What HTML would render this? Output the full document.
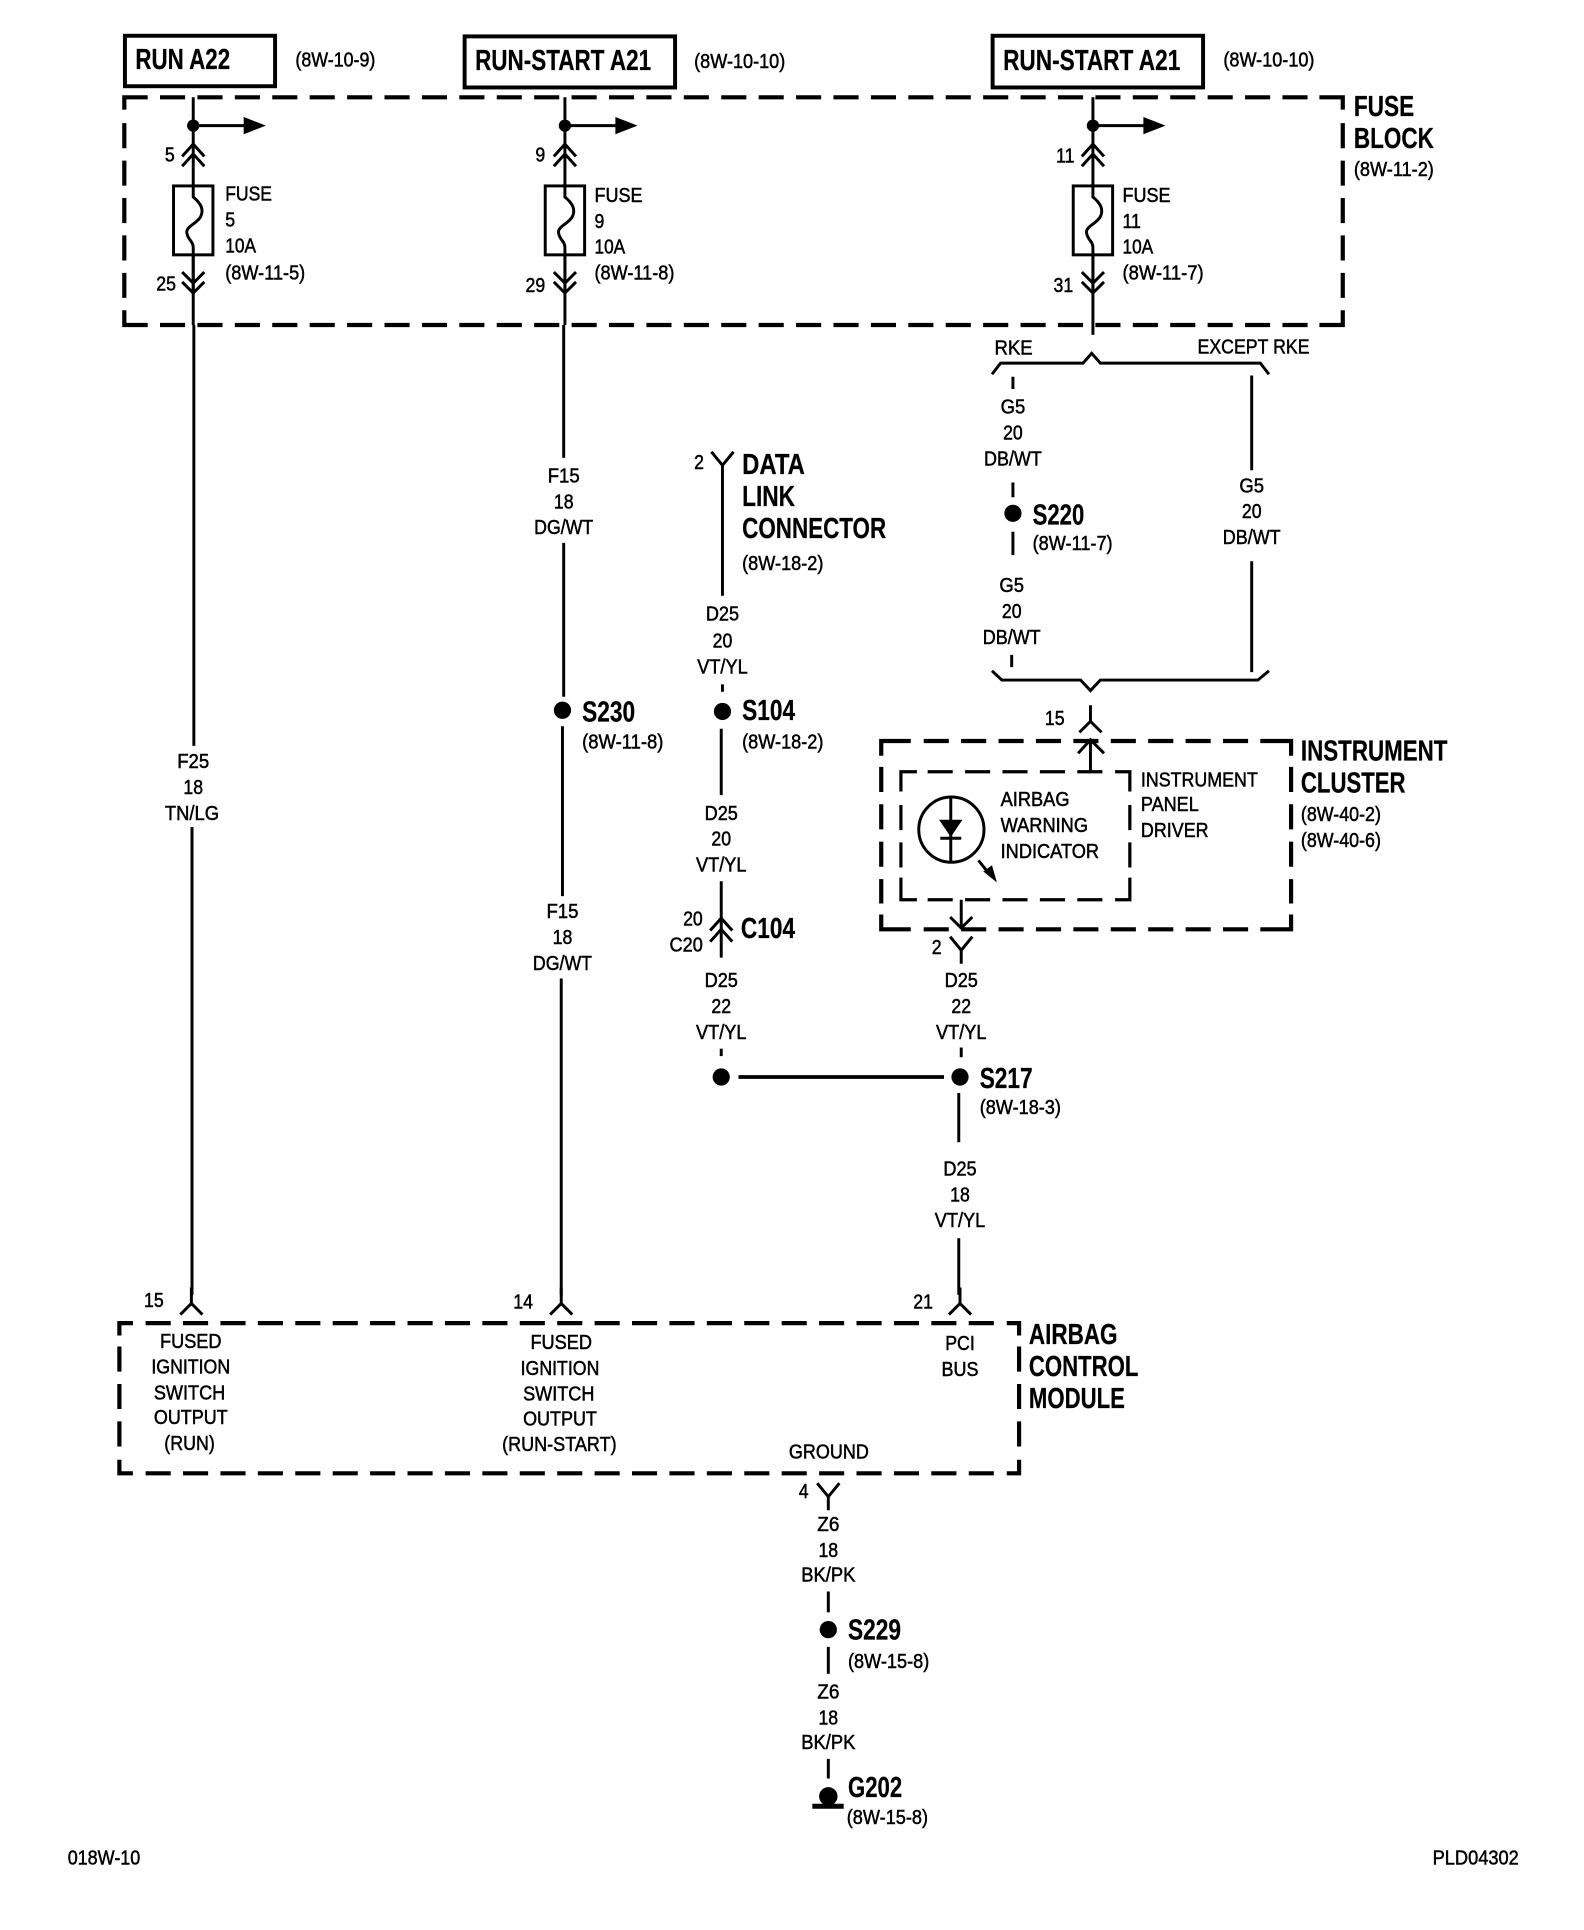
<!DOCTYPE html>
<html><head><meta charset="utf-8"><style>
html,body{margin:0;padding:0;background:#fff}
svg{display:block}
text{font-family:"Liberation Sans",sans-serif;fill:#000}
.s{font-size:16.5px;stroke:#000;stroke-width:.4px}
.b{font-size:23px;font-weight:bold;stroke:#000;stroke-width:.2px}
.m{text-anchor:middle}
.w{stroke:#000;stroke-width:2.4;fill:none}
.c{stroke:#000;stroke-width:3.4;fill:none}
.d{stroke:#000;stroke-width:3.4;fill:none;stroke-dasharray:20.4 10}
.i{stroke:#000;stroke-width:2.6;fill:none}
.j{stroke:#000;stroke-width:2.6;fill:none;stroke-dasharray:20.4 10}
</style></head><body>
<svg xmlns="http://www.w3.org/2000/svg" width="1584" height="1930" viewBox="0 0 1287 1568">
<defs>
<g id="fuse">
<path class="w" d="M0 79V264"/>
<circle cx="0" cy="102" r="5"/>
<path class="w" d="M0 102H44"/><path d="M41 95L59 102L41 109Z"/>
<path class="w" d="M-9 127L0 117L9 127M-9 135L0 125L9 135"/>
<rect x="-16" y="151" width="32" height="56" fill="#fff" stroke="#000" stroke-width="2.4"/>
<path class="w" d="M0 151V160C6 165,9 170,6 176C3 182,-7 184,-5 190C-4 195,0 196,0 201V207"/>
<path class="w" d="M0 207V238M-9 221L0 230L9 221M-9 229L0 238L9 229"/>
</g>
<path id="yd" class="w" d="M-9 -9L0 2L9 -9M0 2V13"/>
<path id="yu" class="w" d="M-9 8L0 -1L9 8M0 -1V-14"/>
</defs>
<rect width="1287" height="1568" fill="#fff"/>

<!-- top boxes -->
<g fill="none" stroke="#000" stroke-width="3.2">
<rect x="101.5" y="29" width="122" height="41"/>
<rect x="377.5" y="29.5" width="171" height="41.5"/>
<rect x="806.5" y="29" width="171" height="42"/>
</g>
<text class="b" x="110" y="56" textLength="77" lengthAdjust="spacingAndGlyphs">RUN A22</text>
<text class="b" x="386" y="57" textLength="143" lengthAdjust="spacingAndGlyphs">RUN-START A21</text>
<text class="b" x="815" y="57" textLength="144" lengthAdjust="spacingAndGlyphs">RUN-START A21</text>
<text class="s" x="240" y="54" textLength="65" lengthAdjust="spacingAndGlyphs">(8W-10-9)</text>
<text class="s" x="564" y="55" textLength="74" lengthAdjust="spacingAndGlyphs">(8W-10-10)</text>
<text class="s" x="994" y="54" textLength="74" lengthAdjust="spacingAndGlyphs">(8W-10-10)</text>

<!-- fuse block -->
<path class="c" d="M101 89V79H120M1072 79H1091V89M1091 252V264H1072M120 264H101V252"/>
<path class="d" d="M130 79H1064M130 264H1064M1091 100V243M101 100V243"/>
<use href="#fuse" x="157"/><use href="#fuse" x="459"/><use href="#fuse" x="888"/>
<text class="b" x="1100" y="94" textLength="49" lengthAdjust="spacingAndGlyphs">FUSE</text>
<text class="b" x="1100" y="120" textLength="65" lengthAdjust="spacingAndGlyphs">BLOCK</text>
<text class="s" x="1100" y="143" textLength="65" lengthAdjust="spacingAndGlyphs">(8W-11-2)</text>

<text class="s" x="134" y="131" textLength="8" lengthAdjust="spacingAndGlyphs">5</text>
<text class="s" x="127" y="236" textLength="16" lengthAdjust="spacingAndGlyphs">25</text>
<text class="s" x="435" y="131" textLength="8" lengthAdjust="spacingAndGlyphs">9</text>
<text class="s" x="427" y="237" textLength="16" lengthAdjust="spacingAndGlyphs">29</text>
<text class="s" x="858" y="132" textLength="15" lengthAdjust="spacingAndGlyphs">11</text>
<text class="s" x="856" y="237" textLength="16" lengthAdjust="spacingAndGlyphs">31</text>

<text class="s" x="183" y="163" textLength="38" lengthAdjust="spacingAndGlyphs">FUSE</text>
<text class="s" x="183" y="184" textLength="8" lengthAdjust="spacingAndGlyphs">5</text>
<text class="s" x="183" y="205" textLength="25" lengthAdjust="spacingAndGlyphs">10A</text>
<text class="s" x="183" y="227" textLength="65" lengthAdjust="spacingAndGlyphs">(8W-11-5)</text>
<text class="s" x="483" y="164" textLength="39" lengthAdjust="spacingAndGlyphs">FUSE</text>
<text class="s" x="483" y="185" textLength="8" lengthAdjust="spacingAndGlyphs">9</text>
<text class="s" x="483" y="206" textLength="25" lengthAdjust="spacingAndGlyphs">10A</text>
<text class="s" x="483" y="227" textLength="65" lengthAdjust="spacingAndGlyphs">(8W-11-8)</text>
<text class="s" x="912" y="164" textLength="39" lengthAdjust="spacingAndGlyphs">FUSE</text>
<text class="s" x="912" y="185" textLength="15" lengthAdjust="spacingAndGlyphs">11</text>
<text class="s" x="912" y="206" textLength="25" lengthAdjust="spacingAndGlyphs">10A</text>
<text class="s" x="912" y="227" textLength="66" lengthAdjust="spacingAndGlyphs">(8W-11-7)</text>

<!-- column 1 wire -->
<path class="w" d="M157.5 264V606M156 672V1052"/>
<text class="s m" x="157" y="624" textLength="26" lengthAdjust="spacingAndGlyphs">F25</text>
<text class="s m" x="157" y="645" textLength="16" lengthAdjust="spacingAndGlyphs">18</text>
<text class="s m" x="156" y="666" textLength="44" lengthAdjust="spacingAndGlyphs">TN/LG</text>

<!-- column 2 wire -->
<path class="w" d="M458 264V372M458 441V566M457 590V728M456 795V1052"/>
<text class="s m" x="458" y="392" textLength="26" lengthAdjust="spacingAndGlyphs">F15</text>
<text class="s m" x="458" y="413" textLength="16" lengthAdjust="spacingAndGlyphs">18</text>
<text class="s m" x="458" y="434" textLength="48" lengthAdjust="spacingAndGlyphs">DG/WT</text>
<circle cx="457" cy="577" r="7"/>
<text class="b" x="473" y="586" textLength="43" lengthAdjust="spacingAndGlyphs">S230</text>
<text class="s" x="473" y="608" textLength="66" lengthAdjust="spacingAndGlyphs">(8W-11-8)</text>
<text class="s m" x="457" y="746" textLength="26" lengthAdjust="spacingAndGlyphs">F15</text>
<text class="s m" x="457" y="767" textLength="16" lengthAdjust="spacingAndGlyphs">18</text>
<text class="s m" x="457" y="788" textLength="48" lengthAdjust="spacingAndGlyphs">DG/WT</text>

<!-- RKE braces -->
<path class="w" d="M888 264V272"/>
<text class="s" x="808" y="288" textLength="31" lengthAdjust="spacingAndGlyphs">RKE</text>
<text class="s" x="973" y="287" textLength="91" lengthAdjust="spacingAndGlyphs">EXCEPT RKE</text>
<path class="w" d="M806 304L813 295H880L887 287L894 295H1024L1031 304"/>
<path class="w" d="M823 306V316M823 392V404M823 432V451M822 532V542M1017 305V382M1017 456V546"/>
<text class="s m" x="823" y="336" textLength="20" lengthAdjust="spacingAndGlyphs">G5</text>
<text class="s m" x="823" y="357" textLength="16" lengthAdjust="spacingAndGlyphs">20</text>
<text class="s m" x="823" y="378" textLength="47" lengthAdjust="spacingAndGlyphs">DB/WT</text>
<circle cx="823" cy="417" r="7"/>
<text class="b" x="839" y="426" textLength="42" lengthAdjust="spacingAndGlyphs">S220</text>
<text class="s" x="839" y="447" textLength="65" lengthAdjust="spacingAndGlyphs">(8W-11-7)</text>
<text class="s m" x="822" y="481" textLength="20" lengthAdjust="spacingAndGlyphs">G5</text>
<text class="s m" x="822" y="502" textLength="16" lengthAdjust="spacingAndGlyphs">20</text>
<text class="s m" x="822" y="523" textLength="47" lengthAdjust="spacingAndGlyphs">DB/WT</text>
<text class="s m" x="1017" y="400" textLength="20" lengthAdjust="spacingAndGlyphs">G5</text>
<text class="s m" x="1017" y="421" textLength="16" lengthAdjust="spacingAndGlyphs">20</text>
<text class="s m" x="1017" y="442" textLength="47" lengthAdjust="spacingAndGlyphs">DB/WT</text>
<path class="w" d="M806 545L814 552.500H878L886 561L894 552.500H1022L1031 545"/>

<!-- instrument cluster -->
<text class="s" x="849" y="589" textLength="16" lengthAdjust="spacingAndGlyphs">15</text>
<use href="#yu" x="886" y="587"/>
<path class="c" d="M716 614V602H740M1024 602H1049V614M1049 743V755H1024M740 755H716V743"/>
<path class="d" d="M750.500 602H1015M750.500 755H1015M1049 623V734M716 623V734"/>
<path class="w" d="M876 612L886 601L897 612M886 601V627"/>
<path class="i" d="M732 643V627H745M906 627H918V643M918 713V731H906M745 731H732V713"/>
<path class="j" d="M753.700 627H896M753.700 731H896M918 654V705M732 654V705"/>
<circle cx="773" cy="674" r="26.500" fill="none" stroke="#000" stroke-width="2.4"/>
<path class="w" d="M772.500 648V701M764 681H781"/><path d="M763 666H782L772.500 680Z"/>
<path class="w" d="M795 699L803 709"/><path d="M799 708L806 703L810 717Z"/>
<text class="s" x="813" y="655" textLength="56" lengthAdjust="spacingAndGlyphs">AIRBAG</text>
<text class="s" x="813" y="676" textLength="71" lengthAdjust="spacingAndGlyphs">WARNING</text>
<text class="s" x="813" y="697" textLength="80" lengthAdjust="spacingAndGlyphs">INDICATOR</text>
<text class="s" x="927" y="639" textLength="95" lengthAdjust="spacingAndGlyphs">INSTRUMENT</text>
<text class="s" x="927" y="659" textLength="47" lengthAdjust="spacingAndGlyphs">PANEL</text>
<text class="s" x="927" y="680" textLength="55" lengthAdjust="spacingAndGlyphs">DRIVER</text>
<text class="b" x="1057" y="618" textLength="119" lengthAdjust="spacingAndGlyphs">INSTRUMENT</text>
<text class="b" x="1057" y="644" textLength="85" lengthAdjust="spacingAndGlyphs">CLUSTER</text>
<text class="s" x="1057" y="667" textLength="65" lengthAdjust="spacingAndGlyphs">(8W-40-2)</text>
<text class="s" x="1057" y="688" textLength="65" lengthAdjust="spacingAndGlyphs">(8W-40-6)</text>
<path class="w" d="M781 731V754M772 745L781 754L790 745"/>
<text class="s" x="757" y="775" textLength="8" lengthAdjust="spacingAndGlyphs">2</text>
<use href="#yd" x="781" y="770"/>
<text class="s m" x="781" y="802" textLength="27" lengthAdjust="spacingAndGlyphs">D25</text>
<text class="s m" x="781" y="823" textLength="16" lengthAdjust="spacingAndGlyphs">22</text>
<text class="s m" x="781" y="844" textLength="41" lengthAdjust="spacingAndGlyphs">VT/YL</text>
<path class="w" d="M781 851V859M779 888V928M779 1006V1052"/>
<circle cx="780" cy="875" r="7"/>
<text class="b" x="796" y="884" textLength="43" lengthAdjust="spacingAndGlyphs">S217</text>
<text class="s" x="796" y="905" textLength="66" lengthAdjust="spacingAndGlyphs">(8W-18-3)</text>
<text class="s m" x="780" y="955" textLength="27" lengthAdjust="spacingAndGlyphs">D25</text>
<text class="s m" x="780" y="976" textLength="16" lengthAdjust="spacingAndGlyphs">18</text>
<text class="s m" x="780" y="997" textLength="41" lengthAdjust="spacingAndGlyphs">VT/YL</text>

<!-- data link column -->
<text class="s" x="564" y="381" textLength="8" lengthAdjust="spacingAndGlyphs">2</text>
<path class="w" d="M578 367L587 378L596 367M587 378V484"/>
<text class="b" x="603" y="385" textLength="51" lengthAdjust="spacingAndGlyphs">DATA</text>
<text class="b" x="603" y="411" textLength="43" lengthAdjust="spacingAndGlyphs">LINK</text>
<text class="b" x="603" y="437" textLength="117" lengthAdjust="spacingAndGlyphs">CONNECTOR</text>
<text class="s" x="603" y="463" textLength="66" lengthAdjust="spacingAndGlyphs">(8W-18-2)</text>
<text class="s m" x="587" y="504" textLength="27" lengthAdjust="spacingAndGlyphs">D25</text>
<text class="s m" x="587" y="526" textLength="16" lengthAdjust="spacingAndGlyphs">20</text>
<text class="s m" x="587" y="547" textLength="41" lengthAdjust="spacingAndGlyphs">VT/YL</text>
<path class="w" d="M587 556V562M586 592V646M586 716V778"/>
<circle cx="587" cy="578" r="7"/>
<text class="b" x="603" y="585" textLength="43" lengthAdjust="spacingAndGlyphs">S104</text>
<text class="s" x="603" y="608" textLength="66" lengthAdjust="spacingAndGlyphs">(8W-18-2)</text>
<text class="s m" x="586" y="666" textLength="27" lengthAdjust="spacingAndGlyphs">D25</text>
<text class="s m" x="586" y="687" textLength="16" lengthAdjust="spacingAndGlyphs">20</text>
<text class="s m" x="586" y="708" textLength="41" lengthAdjust="spacingAndGlyphs">VT/YL</text>
<path class="w" d="M577 756L586 746L595 756M577 765L586 755L595 765"/>
<text class="s" x="555" y="752" textLength="16" lengthAdjust="spacingAndGlyphs">20</text>
<text class="s" x="544" y="773" textLength="27" lengthAdjust="spacingAndGlyphs">C20</text>
<text class="b" x="602" y="762" textLength="44" lengthAdjust="spacingAndGlyphs">C104</text>
<text class="s m" x="586" y="802" textLength="27" lengthAdjust="spacingAndGlyphs">D25</text>
<text class="s m" x="586" y="823" textLength="16" lengthAdjust="spacingAndGlyphs">22</text>
<text class="s m" x="586" y="844" textLength="41" lengthAdjust="spacingAndGlyphs">VT/YL</text>
<path class="w" d="M586 852V858"/>
<circle cx="586" cy="875" r="7"/>
<path d="M600 873.500H767V876.500H600Z"/>

<!-- airbag control module -->
<text class="s" x="117" y="1062" textLength="16" lengthAdjust="spacingAndGlyphs">15</text>
<text class="s" x="417" y="1063" textLength="16" lengthAdjust="spacingAndGlyphs">14</text>
<text class="s" x="742" y="1063" textLength="16" lengthAdjust="spacingAndGlyphs">21</text>
<use href="#yu" x="155.500" y="1060"/><use href="#yu" x="456" y="1060"/><use href="#yu" x="780" y="1060"/>
<path class="c" d="M97 1085V1075H108M818 1075H828V1085M828 1186V1197H818M108 1197H97V1186"/>
<path class="d" d="M118.300 1075H809M118.300 1197H809M828 1094V1176M97 1094V1176"/>
<text class="s m" x="155" y="1095" textLength="50" lengthAdjust="spacingAndGlyphs">FUSED</text>
<text class="s m" x="155" y="1116" textLength="64" lengthAdjust="spacingAndGlyphs">IGNITION</text>
<text class="s m" x="154" y="1137" textLength="58" lengthAdjust="spacingAndGlyphs">SWITCH</text>
<text class="s m" x="155" y="1157" textLength="60" lengthAdjust="spacingAndGlyphs">OUTPUT</text>
<text class="s m" x="154" y="1178" textLength="41" lengthAdjust="spacingAndGlyphs">(RUN)</text>
<text class="s m" x="456" y="1096" textLength="50" lengthAdjust="spacingAndGlyphs">FUSED</text>
<text class="s m" x="455" y="1117" textLength="64" lengthAdjust="spacingAndGlyphs">IGNITION</text>
<text class="s m" x="454" y="1138" textLength="58" lengthAdjust="spacingAndGlyphs">SWITCH</text>
<text class="s m" x="455" y="1158" textLength="60" lengthAdjust="spacingAndGlyphs">OUTPUT</text>
<text class="s m" x="454.500" y="1179" textLength="93" lengthAdjust="spacingAndGlyphs">(RUN-START)</text>
<text class="s m" x="780" y="1097" textLength="24" lengthAdjust="spacingAndGlyphs">PCI</text>
<text class="s m" x="780" y="1118" textLength="30" lengthAdjust="spacingAndGlyphs">BUS</text>
<text class="s m" x="673.500" y="1185" textLength="65" lengthAdjust="spacingAndGlyphs">GROUND</text>
<text class="b" x="836" y="1092" textLength="72" lengthAdjust="spacingAndGlyphs">AIRBAG</text>
<text class="b" x="836" y="1118" textLength="89" lengthAdjust="spacingAndGlyphs">CONTROL</text>
<text class="b" x="836" y="1144" textLength="78" lengthAdjust="spacingAndGlyphs">MODULE</text>

<!-- ground column -->
<text class="s" x="649" y="1217" textLength="8" lengthAdjust="spacingAndGlyphs">4</text>
<use href="#yd" x="673" y="1214"/>
<text class="s m" x="673" y="1244" textLength="18" lengthAdjust="spacingAndGlyphs">Z6</text>
<text class="s m" x="673" y="1265" textLength="16" lengthAdjust="spacingAndGlyphs">18</text>
<text class="s m" x="673" y="1285" textLength="44" lengthAdjust="spacingAndGlyphs">BK/PK</text>
<path class="w" d="M673 1293V1310M673 1338V1360M673 1429V1445"/>
<circle cx="673" cy="1324" r="7"/>
<text class="b" x="689" y="1332" textLength="43" lengthAdjust="spacingAndGlyphs">S229</text>
<text class="s" x="689" y="1355" textLength="66" lengthAdjust="spacingAndGlyphs">(8W-15-8)</text>
<text class="s m" x="673" y="1380" textLength="18" lengthAdjust="spacingAndGlyphs">Z6</text>
<text class="s m" x="673" y="1401" textLength="16" lengthAdjust="spacingAndGlyphs">18</text>
<text class="s m" x="673" y="1421" textLength="44" lengthAdjust="spacingAndGlyphs">BK/PK</text>
<circle cx="673" cy="1459.500" r="7.500"/>
<path d="M660 1465.500H685.500V1469.500H660Z"/>
<text class="b" x="689" y="1460" textLength="44" lengthAdjust="spacingAndGlyphs">G202</text>
<text class="s" x="688" y="1482" textLength="66" lengthAdjust="spacingAndGlyphs">(8W-15-8)</text>

<text class="s" x="55" y="1515" textLength="59" lengthAdjust="spacingAndGlyphs">018W-10</text>
<text class="s" x="1164" y="1515" textLength="70" lengthAdjust="spacingAndGlyphs">PLD04302</text>
</svg>
</body></html>
